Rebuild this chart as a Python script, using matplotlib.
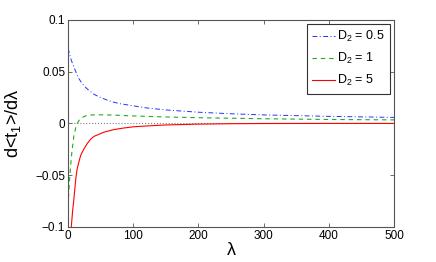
import matplotlib.pyplot as plt

plt.rcParams['font.family'] = ['Liberation Sans', 'DejaVu Sans']
plt.rcParams['mathtext.fontset'] = 'custom'
plt.rcParams['mathtext.rm'] = 'Liberation Sans'
plt.rcParams['mathtext.it'] = 'Liberation Sans'

# values
lam_blue = [0, 5, 10, 15, 20, 25, 30, 40, 50, 60, 70, 80, 100, 120, 150, 200, 250, 300, 400, 500]
d05 = [0.0727, 0.061, 0.053, 0.045, 0.040, 0.036, 0.033, 0.028, 0.025, 0.0225, 0.0205, 0.019,
       0.017, 0.015, 0.013, 0.0108, 0.0093, 0.0082, 0.0068, 0.0058]

lam_green = [0, 2, 4, 6, 9, 12, 14, 17, 20, 25, 30, 40, 50, 70, 100, 150, 200, 300, 400, 500]
d1 = [-0.08, -0.058, -0.041, -0.027, -0.012, -0.004, 0.0, 0.003, 0.0048, 0.0068, 0.0078, 0.0083,
      0.0083, 0.008, 0.0072, 0.0062, 0.0055, 0.0045, 0.0038, 0.0034]

lam_red = [5, 7, 9, 12, 14, 18, 20, 25, 30, 35, 40, 55, 70, 85, 100, 120, 150, 200, 250, 300, 400, 500]
d5 = [-0.1, -0.085, -0.073, -0.053, -0.044, -0.034, -0.030, -0.024, -0.019, -0.015, -0.0125, -0.0085,
      -0.006, -0.0045, -0.0033, -0.0025, -0.0015, -0.0007, -0.0003, -0.0001, 0.0, 0.0]

xticks = [0, 100, 200, 300, 400, 500]
yticks = [-0.1, -0.05, 0, 0.05, 0.1]
ytick_labels = ['\u22120.1', '\u22120.05', '0', '0.05', '0.1']

fig = plt.figure(figsize=(4.36, 2.62), dpi=100)
ax = fig.add_axes([0.156, 0.134, 0.748, 0.79])

ax.plot([0, 500], [0, 0], ':', color='gray', lw=0.8)
ax.plot(lam_blue, d05, color='#2233ff', lw=0.7, linestyle=(0, (5, 2.5, 1, 2.5)), label='D$_2$ = 0.5')
ax.plot(lam_green, d1, color='#22aa22', lw=0.8, linestyle=(0, (4, 3.5)), label='D$_2$ = 1')
ax.plot(lam_red, d5, '-', color='#ff0000', lw=0.8, label='D$_2$ = 5')

ax.set_xlim(0, 500)
ax.set_ylim(-0.1, 0.1)
ax.set_xticks(xticks)
ax.set_yticks(yticks)
ax.set_yticklabels(ytick_labels)
ax.tick_params(direction='in', length=3, width=0.6, labelsize=8.5, top=True, right=True,
               color='#555555', pad=2)
for s in ax.spines.values():
    s.set_color('#555555')
    s.set_linewidth(0.8)

ax.set_xlabel('\u03bb', fontsize=13, labelpad=0)
ax.set_ylabel('d<t$_1$>/d\u03bb', fontsize=13, labelpad=9)

leg = ax.legend(loc='upper right', fontsize=9, fancybox=False, framealpha=1,
                edgecolor='#333333', borderpad=0.45, labelspacing=0.55,
                handlelength=1.8, handletextpad=0.2, borderaxespad=0.3)
leg.get_frame().set_linewidth(0.8)

fig.savefig('out.png', dpi=100)
